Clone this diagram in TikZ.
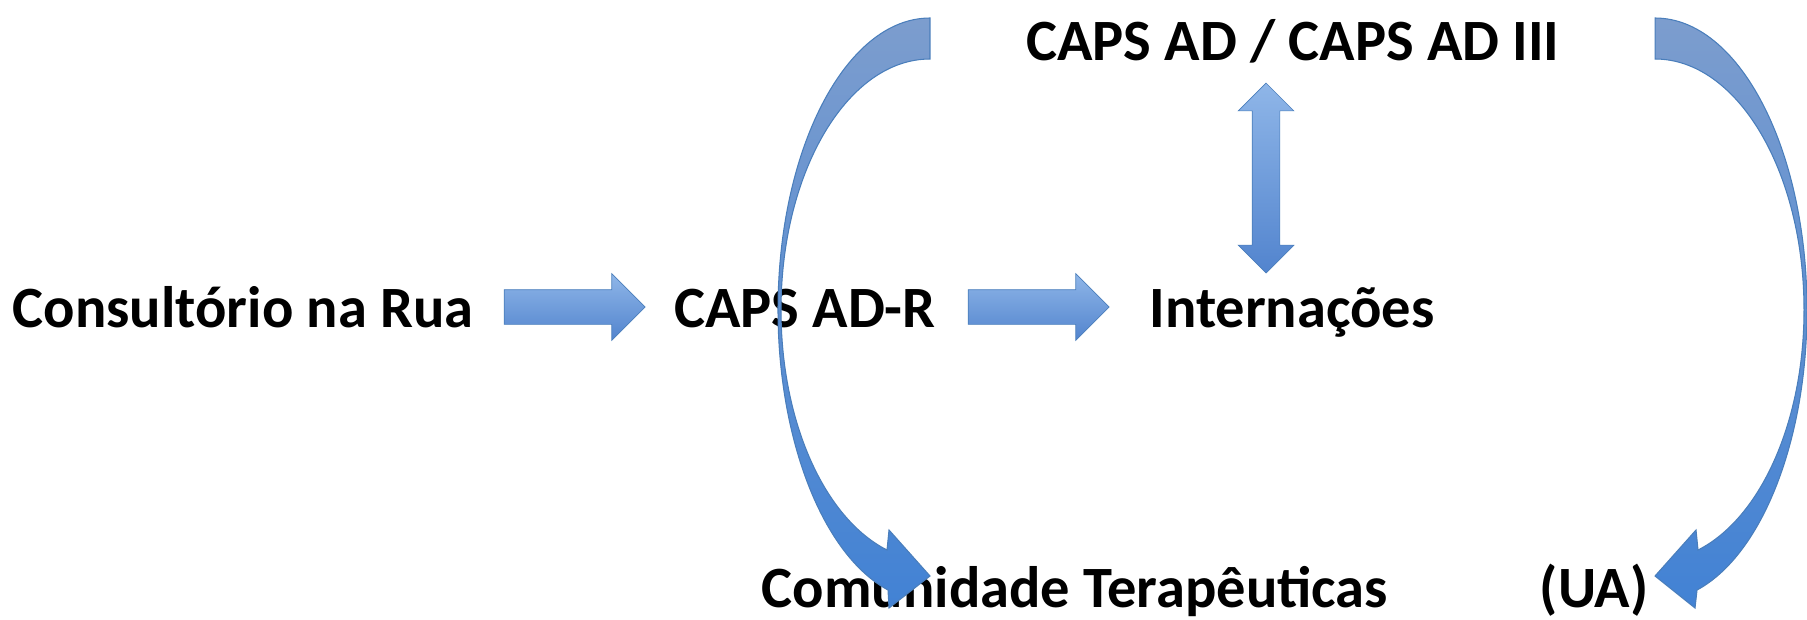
\documentclass[tikz,border=0pt]{standalone}
\usepackage{fontspec}
\setmainfont{Carlito}
\usetikzlibrary{shapes.arrows}
\definecolor{arrowtop}{RGB}{143,182,232}
\definecolor{arrowbot}{RGB}{82,132,206}
\definecolor{arrowline}{RGB}{74,126,187}
\definecolor{ribbontop}{RGB}{124,157,206}
\definecolor{ribbonmid}{RGB}{92,127,186}
\definecolor{ribbonbot}{RGB}{66,130,212}
\tikzstyle{servico} = [font=\fontsize{33.3}{40}\selectfont\bfseries, inner sep=0pt, anchor=base]
\tikzstyle{fatarrow} = [single arrow, draw=arrowline, top color=arrowtop, bottom color=arrowbot, minimum height=2.82cm, inner xsep=0pt, inner ysep=0.34cm, single arrow head extend=0.32cm]
\tikzstyle{fatdouble} = [double arrow, shape border rotate=90, draw=arrowline, top color=arrowtop, bottom color=arrowbot, minimum height=3.8cm, inner sep=0.27cm, double arrow head extend=0.28cm]
\tikzstyle{ribbon} = [draw=arrowline, line width=0.6pt, top color=ribbontop, middle color=ribbonmid, bottom color=ribbonbot]
\begin{document}
\begin{tikzpicture}[x=0.02cm, y=-0.02cm]

    \useasboundingbox (0, 0) rectangle (1807, 619);

    \node (consultorio) [servico] at (243, 327) {Consultório na Rua};
    \node (capsr) [servico] at (805, 327) {CAPS AD-R};
    \node (internacoes) [servico] at (1292, 327) {Internações};
    \node (capsad) [servico] at (1293, 60) {CAPS AD / CAPS AD III};
    \node (comunidade) [servico] at (1075, 607) {Comunidade Terapêuticas};
    \node (ua) [servico] at (1594, 607) {(UA)};

    \node (seta1) [fatarrow] at (566, 307) {};
    \node (seta2) [fatarrow] at (1030, 307) {};
    \node (seta3) [fatdouble] at (1266, 178) {};

    % curved arrows from CAPS AD / CAPS AD III
    \draw [ribbon] (930, 18) .. controls (846, 18) and (778, 149) .. (778, 310)
        .. controls (778, 440) and (823, 555) .. (888, 590)
        -- (889, 608) -- (930, 576) -- (889, 530) -- (887, 550)
        .. controls (824, 518) and (781, 421) .. (781, 310)
        .. controls (781, 171) and (848, 59) .. (930, 59) -- cycle;

    \draw [ribbon] (1655, 18) .. controls (1739, 18) and (1807, 149) .. (1807, 310)
        .. controls (1807, 440) and (1762, 555) .. (1697, 590)
        -- (1695, 608) -- (1655, 576) -- (1696, 530) -- (1698, 550)
        .. controls (1761, 518) and (1804, 421) .. (1804, 310)
        .. controls (1804, 171) and (1737, 59) .. (1655, 59) -- cycle;

\end{tikzpicture}
\end{document}
